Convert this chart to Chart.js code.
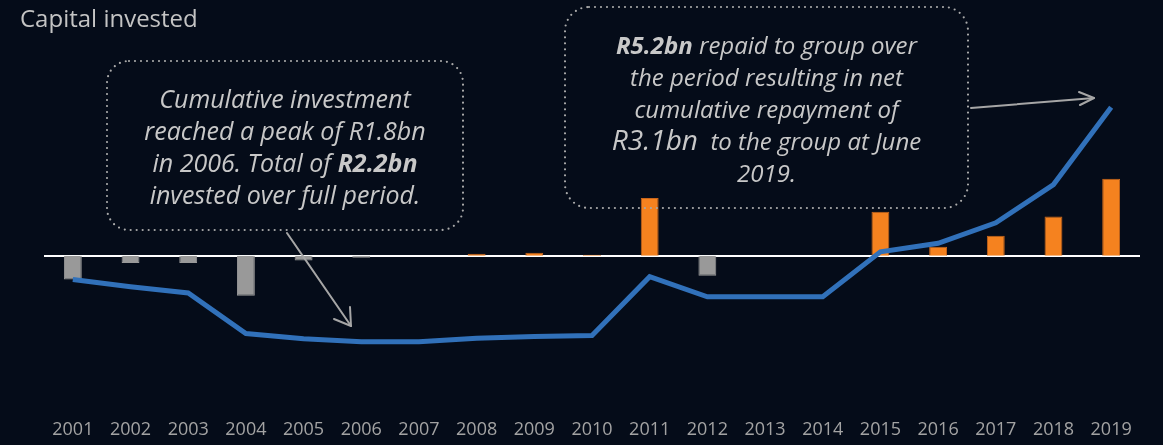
<!DOCTYPE html>
<html>
<head>
<meta charset="utf-8">
<script src="https://cdn.jsdelivr.net/npm/chart.js@4.4.1/dist/chart.umd.min.js"></script>
<style>
    html, body { margin: 0; padding: 0; background: #050c19; }
    #wrap { position: relative; width: 1163px; height: 445px; overflow: hidden; }
    #capitalChart { position: absolute; left: 0; top: 0; }
    #overlay { position: absolute; left: 0; top: 0; pointer-events: none; }
    .title {
        position: absolute; left: 20px; top: 1px;
        font-family: 'Open Sans', sans-serif; font-size: 24px; color: #c4c4c4;
    }
    .note {
        position: absolute; text-align: center;
        font-family: 'Open Sans', sans-serif; font-style: italic;
        font-size: 25px; line-height: 32px; color: #c8c8c8;
    }
    .note b { font-weight: 700; }
    .note .big { font-size: 28px; line-height: 0; }
</style>
</head>
<body>
<div id="wrap">
    <canvas id="capitalChart" width="1163" height="445"></canvas>
    <svg id="overlay" width="1163" height="445">
        <g fill="none" stroke="#a9a9a9" stroke-width="2.2" stroke-linecap="round" stroke-dasharray="0 6">
            <rect x="107" y="61" width="356" height="169" rx="22" ry="22"/>
            <rect x="565" y="7" width="403" height="201" rx="24" ry="24"/>
        </g>
        <g fill="none" stroke="#a6a6a6" stroke-width="2" stroke-linecap="round" stroke-linejoin="round">
            <line x1="287" y1="233" x2="351" y2="326"/>
            <polyline points="334,319 351,326 350,307"/>
            <line x1="971" y1="108" x2="1094" y2="98"/>
            <polyline points="1079,92 1094,98 1080,105"/>
        </g>
    </svg>
    <div class="title">Capital invested</div>
    <div class="note" style="left:107px; top:82px; width:356px;">
        Cumulative investment<br>reached a peak of R1.8bn<br>in 2006. Total of <b>R2.2bn</b><br>invested over full period.
    </div>
    <div class="note" style="left:565px; top:29px; width:403px; font-size:24px;">
        <b>R5.2bn</b> repaid to group over<br>the period resulting in net<br>cumulative repayment of<br><span class="big">R3.1bn</span>&nbsp; to the group at June<br>2019.
    </div>
</div>
<script>
// Years and annual capital flows (Rm); negative = invested, positive = repaid
const years = ['2001', '2002', '2003', '2004', '2005', '2006', '2007', '2008', '2009', '2010',
               '2011', '2012', '2013', '2014', '2015', '2016', '2017', '2018', '2019'];
const annualFlow = [-500, -150, -150, -840, -100, -40, 0, 40, 60, 20,
                    1210, -420, 0, 0, 920, 190, 420, 820, 1610];
const cumulative = [-500, -650, -780, -1630, -1740, -1800, -1800, -1730, -1690, -1670,
                    -440, -860, -860, -860, 80, 260, 690, 1490, 3110];

const colors = {
    orange: '#f5821f',
    orangeEdge: '#c9651b',
    gray: '#999999',
    blue: '#3171ba',
    axisText: '#a3a3a3',
};

// White baseline at zero across the plot width
const zeroLine = {
    id: 'zeroLine',
    beforeDatasetsDraw(chart) {
        const { ctx, chartArea, scales } = chart;
        const y = Math.round(scales.y.getPixelForValue(0));
        ctx.save();
        ctx.strokeStyle = '#ffffff';
        ctx.lineWidth = 2;
        ctx.beginPath();
        ctx.moveTo(chartArea.left, y);
        ctx.lineTo(chartArea.right, y);
        ctx.stroke();
        ctx.restore();
    }
};

const ctx = document.getElementById('capitalChart').getContext('2d');

new Chart(ctx, {
    type: 'bar',
    data: {
        labels: years,
        datasets: [
            {
                type: 'line',
                data: cumulative,
                borderColor: colors.blue,
                borderWidth: 5,
                pointRadius: 0,
                tension: 0,
                fill: false,
                clip: false,
                order: 0,
            },
            {
                type: 'bar',
                data: annualFlow,
                backgroundColor: annualFlow.map(v => v < 0 ? colors.gray : colors.orange),
                borderColor: annualFlow.map(v => v < 0 ? colors.gray : colors.orangeEdge),
                borderWidth: 1,
                categoryPercentage: 1,
                barPercentage: 0.31,
                order: 1,
            }
        ]
    },
    options: {
        responsive: false,
        animation: false,
        layout: { padding: { left: 44, right: 23, top: 60, bottom: -16 } },
        plugins: {
            legend: { display: false },
            tooltip: { enabled: false },
        },
        scales: {
            x: {
                grid: { display: false, drawTicks: false },
                border: { display: false },
                ticks: {
                    color: colors.axisText,
                    padding: 20,
                    maxRotation: 0,
                    autoSkip: false,
                    font: { family: 'Open Sans', size: 18 },
                },
            },
            y: {
                display: false,
                min: -3010,
                max: 4100,
            },
        },
    },
    plugins: [zeroLine],
});
</script>
</body>
</html>
